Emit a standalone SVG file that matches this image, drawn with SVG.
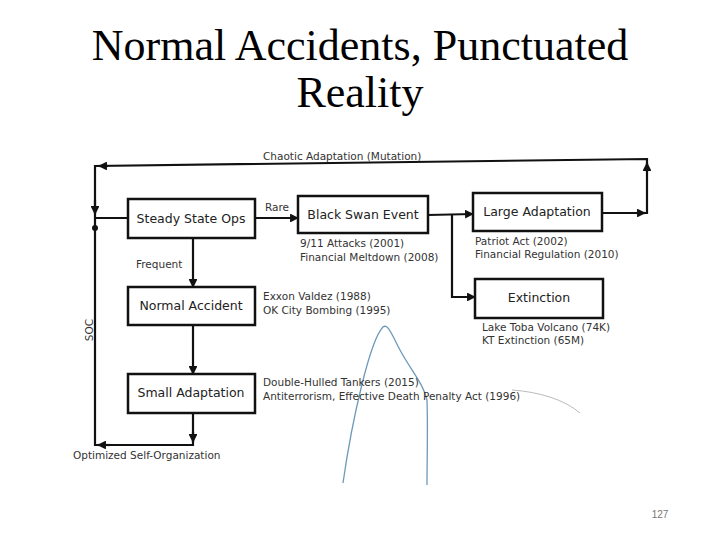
<svg xmlns="http://www.w3.org/2000/svg" width="720" height="540" viewBox="0 0 720 540">
<style>
.title{font-family:"Liberation Serif",serif;font-size:44px;fill:#000}
.box{fill:#fff;stroke:#111;stroke-width:2.5}
.bl{font-family:"DejaVu Sans",sans-serif;font-size:12.5px;fill:#222;text-anchor:middle}
.lbl{font-family:"DejaVu Sans",sans-serif;font-size:10.5px;fill:#333}
.ln{fill:none;stroke:#111;stroke-width:2.2}
</style>
<defs>
<marker id="ah" viewBox="0 0 10 10" refX="9" refY="5" markerWidth="4" markerHeight="4" orient="auto">
<path d="M0,0 L10,5 L0,10 z" fill="#111"/>
</marker>
</defs>
<text class="title" x="360" y="60" text-anchor="middle">Normal Accidents, Punctuated</text>
<text class="title" x="360" y="107" text-anchor="middle">Reality</text>
<path d="M343,483 C352,420 370,340 383,327 C388,323 392,335 400,350 C412,372 424,385 427,400 C428,430 427,460 427,485" fill="none" stroke="#4a7fa8" stroke-width="1.3" opacity="0.8"/>
<path d="M512,390 C540,392 565,400 580,413" fill="none" stroke="#bbb" stroke-width="1"/>
<g id="connectors">
<path class="ln" d="M602,213 L647,213 L647,159 L95,166 L95,445 L193,445 L193,413"/>
<path class="ln" d="M636,213 L645,213" marker-end="url(#ah)"/>
<path class="ln" d="M647,172 L647,163" marker-end="url(#ah)"/>
<path class="ln" d="M108,166 L99,166" marker-end="url(#ah)"/>
<path class="ln" d="M95,200 L95,214" marker-end="url(#ah)"/>
<path class="ln" d="M95,218 L128,218"/>
<circle cx="95" cy="228" r="3" fill="#111"/>
<path class="ln" d="M193,432 L193,442" marker-end="url(#ah)"/>
<path class="ln" d="M110,445 L98,445" marker-end="url(#ah)"/>
<path class="ln" d="M255,218 L298,218" marker-end="url(#ah)"/>
<path class="ln" d="M193,238 L193,287" marker-end="url(#ah)"/>
<path class="ln" d="M193,325 L193,374" marker-end="url(#ah)"/>
<path class="ln" d="M428,215 L473,214" marker-end="url(#ah)"/>
<path class="ln" d="M452,215 L452,297 L475,297" marker-end="url(#ah)"/>
</g>
<g id="steady"><rect class="box" x="128" y="199" width="127" height="39"/><text class="bl" x="191" y="223">Steady State Ops</text></g>
<g id="blackswan"><rect class="box" x="298" y="196" width="130" height="37"/><text class="bl" x="363" y="219">Black Swan Event</text></g>
<g id="large"><rect class="box" x="473" y="193" width="129" height="38"/><text class="bl" x="537" y="216">Large Adaptation</text></g>
<g id="extinction"><rect class="box" x="475" y="279" width="128" height="39"/><text class="bl" x="539" y="302">Extinction</text></g>
<g id="normal"><rect class="box" x="128" y="287" width="127" height="38"/><text class="bl" x="191" y="310">Normal Accident</text></g>
<g id="small"><rect class="box" x="128" y="374" width="127" height="39"/><text class="bl" x="191" y="397">Small Adaptation</text></g>
<g id="labels">
<text class="lbl" x="263" y="160">Chaotic Adaptation (Mutation)</text>
<text class="lbl" x="265" y="211">Rare</text>
<text class="lbl" x="136" y="268">Frequent</text>
<text class="lbl" x="300" y="247">9/11 Attacks (2001)</text>
<text class="lbl" x="300" y="261">Financial Meltdown (2008)</text>
<text class="lbl" x="475" y="245">Patriot Act (2002)</text>
<text class="lbl" x="475" y="258">Financial Regulation (2010)</text>
<text class="lbl" x="263" y="300">Exxon Valdez (1988)</text>
<text class="lbl" x="263" y="314">OK City Bombing (1995)</text>
<text class="lbl" x="482" y="331">Lake Toba Volcano (74K)</text>
<text class="lbl" x="482" y="344">KT Extinction (65M)</text>
<text class="lbl" x="263" y="386">Double-Hulled Tankers (2015)</text>
<text class="lbl" x="263" y="400">Antiterrorism, Effective Death Penalty Act (1996)</text>
<text class="lbl" x="73" y="459">Optimized Self-Organization</text>
<text class="lbl" transform="translate(93,330) rotate(-90)" text-anchor="middle">SOC</text>
<text x="660" y="518" font-family="Liberation Sans,sans-serif" font-size="10" fill="#777" text-anchor="middle">127</text>
</g>
</svg>
